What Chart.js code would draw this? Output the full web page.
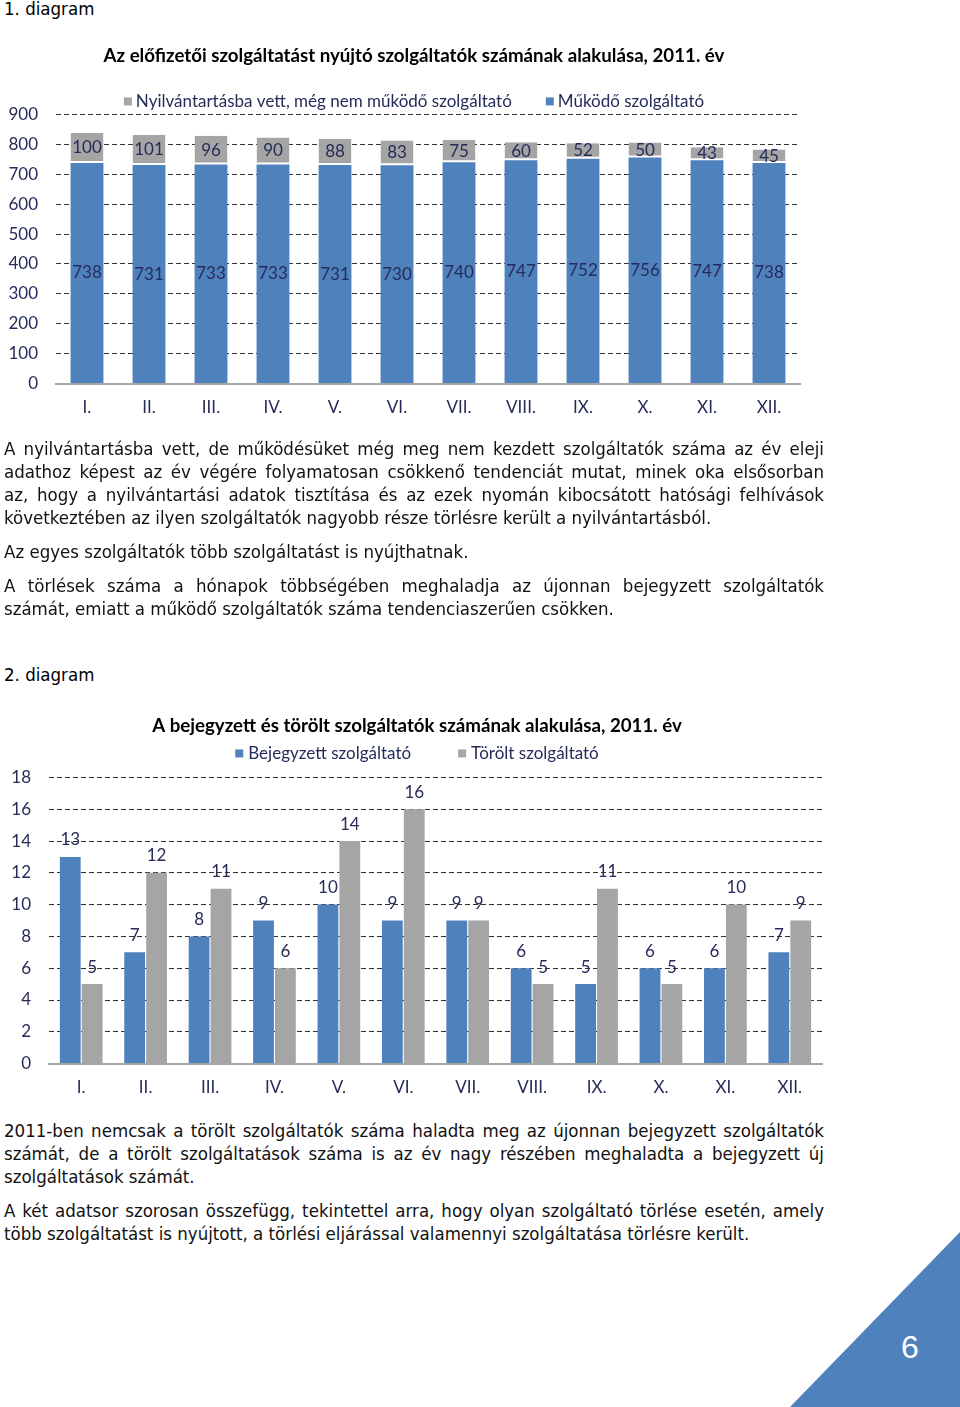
<!DOCTYPE html>
<html lang="hu">
<head>
<meta charset="utf-8">
<title>Szolgáltatók, 2011</title>
<script src="https://cdn.jsdelivr.net/npm/chart.js@4.4.1/dist/chart.umd.min.js"></script>
<style>
  html, body { margin: 0; padding: 0; background: #fff; }
  body { position: relative; width: 960px; height: 1407px; overflow: hidden; }
  .head { position: absolute; left: 4px; font: 18.5px "Liberation Sans Narrow", "DejaVu Sans Condensed", sans-serif; color: #000; }
  .box { position: absolute; left: 0; }
  .text { position: absolute; left: 4px; width: 820px; font: 18.5px/23px "Liberation Sans Narrow", "DejaVu Sans Condensed", sans-serif; color: #111; }
  .text p { margin: 0 0 11px 0; }
  .text span { display: block; white-space: nowrap; }
  .text span.j { text-align: justify; text-align-last: justify; white-space: normal; }
  .corner { position: absolute; left: 790px; top: 1232px; width: 170px; height: 175px; background: #4f81bd;
            clip-path: polygon(100% 0, 100% 100%, 0 100%); }
  .pageno { position: absolute; left: 895px; top: 1329px; width: 30px; text-align: center;
            font: 32px "Liberation Sans", Arial, sans-serif; color: #fff; }
</style>
</head>
<body>

<div class="head" style="top:-2px">1. diagram</div>
<div class="box" style="top:36px;width:820px;height:404px"><canvas id="chart1"></canvas></div>

<div class="text" style="top:437px">
  <p>
    <span class="j">A nyilvántartásba vett, de működésüket még meg nem kezdett szolgáltatók száma az év eleji</span>
    <span class="j">adathoz képest az év végére folyamatosan csökkenő tendenciát mutat, minek oka elsősorban</span>
    <span class="j">az, hogy a nyilvántartási adatok tisztítása és az ezek nyomán kibocsátott hatósági felhívások</span>
    <span>következtében az ilyen szolgáltatók nagyobb része törlésre került a nyilvántartásból.</span>
  </p>
  <p><span>Az egyes szolgáltatók több szolgáltatást is nyújthatnak.</span></p>
  <p>
    <span class="j">A törlések száma a hónapok többségében meghaladja az újonnan bejegyzett szolgáltatók</span>
    <span>számát, emiatt a működő szolgáltatók száma tendenciaszerűen csökken.</span>
  </p>
</div>

<div class="head" style="top:664px">2. diagram</div>
<div class="box" style="top:700px;width:840px;height:414px"><canvas id="chart2"></canvas></div>

<div class="text" style="top:1119px">
  <p>
    <span class="j">2011-ben nemcsak a törölt szolgáltatók száma haladta meg az újonnan bejegyzett szolgáltatók</span>
    <span class="j">számát, de a törölt szolgáltatások száma is az év nagy részében meghaladta a bejegyzett új</span>
    <span>szolgáltatások számát.</span>
  </p>
  <p>
    <span class="j">A két adatsor szorosan összefügg, tekintettel arra, hogy olyan szolgáltató törlése esetén, amely</span>
    <span>több szolgáltatást is nyújtott, a törlési eljárással valamennyi szolgáltatása törlésre került.</span>
  </p>
</div>

<div class="corner"></div>
<div class="pageno">6</div>

<script>
// hónapok
const months = ["I.", "II.", "III.", "IV.", "V.", "VI.", "VII.", "VIII.", "IX.", "X.", "XI.", "XII."];

// 1. diagram adatai
const mukodo = [738, 731, 733, 733, 731, 730, 740, 747, 752, 756, 747, 738];
const nemMukodo = [100, 101, 96, 90, 88, 83, 75, 60, 52, 50, 43, 45];
const yTicks1 = [0, 100, 200, 300, 400, 500, 600, 700, 800, 900];

// 2. diagram adatai
const bejegyzett = [13, 7, 8, 9, 10, 9, 9, 6, 5, 6, 6, 7];
const torolt = [5, 12, 11, 6, 14, 16, 9, 5, 11, 5, 10, 9];
const yTicks2 = [0, 2, 4, 6, 8, 10, 12, 14, 16, 18];

const BLUE = "#4f81bd";
const GRAY = "#a5a5a5";
const NAVY = "#262c5a";
const FONT = "Lato, 'Open Sans', sans-serif";

// értékek kiírása az oszlopokra
const valueLabels = {
    id: "valueLabels",
    afterDatasetsDraw(chart, args, opts) {
        const ctx = chart.ctx;
        ctx.save();
        ctx.font = "17px " + FONT;
        ctx.fillStyle = NAVY;
        ctx.textAlign = "center";
        ctx.textBaseline = "middle";
        chart.data.datasets.forEach((ds, i) => {
            chart.getDatasetMeta(i).data.forEach((bar, j) => {
                const y = opts.inside ? (bar.y + bar.base) / 2 : bar.y - opts.offset;
                ctx.fillText(ds.data[j], bar.x, y);
            });
        });
        ctx.restore();
    }
};

// jelmagyarázat a diagram fölött, a cím vízszintes igazítása
const boxLegend = {
    id: "boxLegend",
    afterLayout(chart, args, opts) {
        if (chart.titleBlock) chart.titleBlock.left = opts.titleLeft;
    },
    afterDraw(chart, args, opts) {
        const ctx = chart.ctx;
        ctx.save();
        ctx.font = "17px " + FONT;
        ctx.textBaseline = "middle";
        const items = opts.order.map(i => chart.data.datasets[i]);
        const widths = items.map(ds => 8 + opts.textGap + ctx.measureText(ds.label).width);
        const total = widths.reduce((a, b) => a + b, 0) + opts.gap * (items.length - 1);
        let x = opts.centerX - total / 2;
        const y = chart.chartArea.top - opts.offset;
        items.forEach((ds, k) => {
            ctx.fillStyle = ds.backgroundColor;
            ctx.fillRect(x, y - 4, 8, 8);
            ctx.fillStyle = NAVY;
            ctx.fillText(ds.label, x + 8 + opts.textGap, y);
            x += widths[k] + opts.gap;
        });
        ctx.restore();
    }
};

function yScale(ticks, width, padding) {
    return {
        min: ticks[0],
        max: ticks[ticks.length - 1],
        afterBuildTicks: scale => { scale.ticks = ticks.map(v => ({ value: v })); },
        afterFit: scale => { scale.width = width; },
        ticks: { color: NAVY, font: { family: FONT, size: 17 }, padding: padding },
        grid: { color: "#333333", lineWidth: 1, drawTicks: false },
        border: { display: false, dash: [5, 3] }
    };
}

function xScale() {
    return {
        ticks: { color: NAVY, font: { family: FONT, size: 17 }, padding: 14 },
        grid: { display: false, drawTicks: false },
        border: { display: true, color: "#a6a6a6", width: 2 }
    };
}

// 1. diagram: halmozott oszlopok
new Chart(document.getElementById("chart1"), {
    type: "bar",
    data: {
        labels: months,
        datasets: [
            { label: "Működő szolgáltató", data: mukodo, backgroundColor: BLUE,
              barPercentage: 0.53, categoryPercentage: 1 },
            { label: "Nyilvántartásba vett, még nem működő szolgáltató", data: nemMukodo, backgroundColor: GRAY,
              borderColor: "#ffffff", borderWidth: { bottom: 2, top: 0, left: 0, right: 0 }, borderSkipped: false,
              barPercentage: 0.53, categoryPercentage: 1 }
        ]
    },
    options: {
        responsive: true,
        maintainAspectRatio: false,
        animation: false,
        layout: { padding: { left: 0, right: 20, top: 0, bottom: 8 } },
        scales: {
            x: Object.assign(xScale(), { stacked: true }),
            y: Object.assign(yScale(yTicks1, 56, 18), { stacked: true })
        },
        plugins: {
            legend: { display: false },
            tooltip: { enabled: false },
            title: {
                display: true,
                text: "Az előfizetői szolgáltatást nyújtó szolgáltatók számának alakulása, 2011. év",
                color: "#000",
                font: { family: FONT, size: 18.7, weight: "bold" },
                padding: { top: 9, bottom: 47 }
            },
            valueLabels: { inside: true },
            boxLegend: { order: [1, 0], centerX: 414, offset: 13, gap: 34, textGap: 4, titleLeft: 28 }
        }
    },
    plugins: [valueLabels, boxLegend]
});

// 2. diagram: csoportosított oszlopok
new Chart(document.getElementById("chart2"), {
    type: "bar",
    data: {
        labels: months,
        datasets: [
            { label: "Bejegyzett szolgáltató", data: bejegyzett, backgroundColor: BLUE,
              barPercentage: 0.95, categoryPercentage: 0.68 },
            { label: "Törölt szolgáltató", data: torolt, backgroundColor: GRAY,
              barPercentage: 0.95, categoryPercentage: 0.68 }
        ]
    },
    options: {
        responsive: true,
        maintainAspectRatio: false,
        animation: false,
        layout: { padding: { left: 0, right: 18, top: 0, bottom: 2 } },
        scales: {
            x: xScale(),
            y: yScale(yTicks2, 49, 18)
        },
        plugins: {
            legend: { display: false },
            tooltip: { enabled: false },
            title: {
                display: true,
                text: "A bejegyzett és törölt szolgáltatók számának alakulása, 2011. év",
                color: "#000",
                font: { family: FONT, size: 18.7, weight: "bold" },
                padding: { top: 15, bottom: 40 }
            },
            valueLabels: { inside: false, offset: 17 },
            boxLegend: { order: [0, 1], centerX: 417, offset: 24, gap: 47, textGap: 5, titleLeft: 12 }
        }
    },
    plugins: [valueLabels, boxLegend]
});
</script>
</body>
</html>
